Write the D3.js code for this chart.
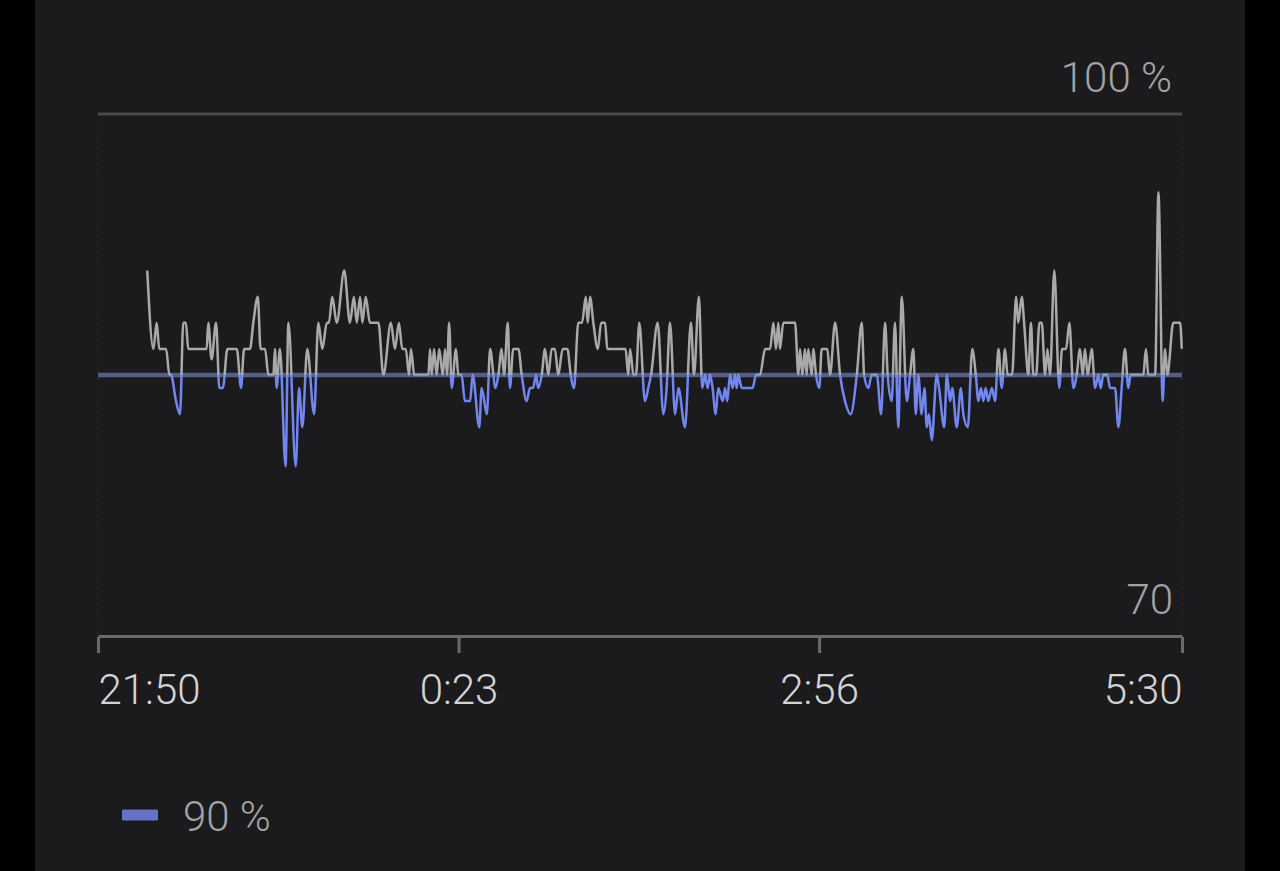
<!DOCTYPE html>
<html>
<head>
<meta charset="utf-8">
<script src="https://cdn.jsdelivr.net/npm/d3@7"></script>
<style>
  html, body { margin: 0; padding: 0; background: #000; }
  svg { display: block; }
</style>
</head>
<body>
<svg id="chart" width="1280" height="871"></svg>
<script>
// ---- data ----
// minutes after 21:50
const minutes = [
  20.9,23.5,24.9,26.0,28.9,30.3,31.0,33.1,34.8,36.2,37.3,38.3,46.1,46.8,48.2,50.1,51.5,53.0,54.9,58.9,
  60.7,62.0,64.5,65.9,67.8,69.0,70.9,72.3,74.4,75.1,75.8,77.2,79.6,80.8,83.9,85.3,86.7,88.8,91.7,93.5,
  95.2,97.1,98.0,99.4,101.3,104.5,106.9,108.6,109.8,111.2,112.2,113.6,115.4,119.0,121.1,124.3,126.0,127.7,129.1,130.6,
  132.0,132.8,134.2,140.2,140.9,141.6,142.6,143.7,144.8,146.3,147.3,148.1,149.0,150.1,151.9,152.9,154.3,155.7,157.9,159.0,
  161.8,162.8,165.0,166.4,167.8,168.5,169.9,171.3,172.3,173.9,174.8,176.2,178.4,179.8,181.9,183.3,184.6,185.9,186.8,188.3,
  189.7,191.1,192.5,193.9,195.3,197.2,199.2,200.6,202.0,203.8,205.4,207.0,207.8,208.8,210.2,212.1,213.5,215.2,216.1,223.9,
  225.0,225.8,227.2,228.3,229.7,232.1,233.5,234.7,237.5,239.9,241.3,242.7,244.9,246.3,249.1,251.6,252.9,255.0,256.4,257.6,
  258.7,259.7,260.8,262.1,263.2,265.1,266.1,267.0,268.2,269.3,270.3,271.0,271.7,273.2,277.8,279.2,280.9,283.1,285.2,286.6,
  287.7,288.7,289.4,290.8,295.8,297.2,297.9,298.9,300.0,300.7,301.4,302.9,303.5,304.7,306.1,307.1,309.5,310.6,312.8,314.9,
  317.0,319.4,322.0,324.1,325.1,326.9,328.3,330.5,332.3,334.0,335.1,336.8,338.2,339.6,341.1,343.2,344.6,346.0,347.0,348.1,
  349.5,350.7,351.7,352.6,353.8,355.9,356.9,359.1,360.2,361.6,362.5,364.4,366.2,367.2,369.1,371.0,372.5,373.6,374.7,375.7,
  376.7,377.8,379.3,380.7,382.1,383.5,384.9,386.0,387.9,389.6,390.5,392.0,393.0,394.8,395.9,396.9,398.1,399.5,400.5,401.9,
  402.9,404.0,405.8,407.9,409.1,410.8,412.2,413.9,415.3,416.7,417.9,418.8,420.0,421.7,423.1,424.5,425.5,426.6,428.3,429.5,
  431.6,433.0,434.4,435.8,437.2,438.2,443.6,444.7,445.7,448.6,450.0,451.8,452.8,453.8,456.3,459.2,459.9
];
// SpO2 (%)
const spo2 = [
  94,91,92,91,91,90,90,89,88.5,92,92,91,91,92,90.6,92,89.5,89.5,91,91,
  89.5,91,91,92,93,91,91,90,90,91,89.5,91,86.5,92,86.5,89.5,88,91,88.5,92,
  91,92,92,93,92,94,92,93,92,93,92,93,92,92,90,92,91,92,91,91,
  90,91,90,90,91,90,91,90,91,90,91,90,92,89.5,91,90,90,89,89,90,
  88,89.5,88.5,91,90,89.5,90,91,90,92,89.5,91,91,90,89,89.5,89.5,90,89.5,90,
  91,90,91,91,90,91,91,90,89.5,92,92,93,92,93,92,91,92,92,91,91,
  90,91,90,90,92,89,89.5,90,92,88.5,89.5,92,88.5,89.5,88,92,90,93,89.5,90,
  89.5,90,89.5,88.5,89.5,89,89.5,89,90,89.5,90,89.5,90,89.5,89.5,90,90,91,91,92,
  91,92,91,92,92,90,91,90,91,90,91,90,91,90,89.5,91,91,90,92,90,
  89,88.5,90,92,90,89.5,90,90,88.5,92,90,89,92,88,93,89,90,91,88.5,90,
  88.5,89.5,88,88.5,87.5,90,89.5,88,90,89,89.5,88,89.5,88.5,88,91,90,89,89.5,89,
  89.5,89,89.5,89,91,89.5,91,90,90,93,92,93,92,90,92,90,90,92,92,90,
  91,90,94,89.5,91,91,92,89.5,90,91,90,91,90,91,89.5,90,89.5,90,90,89.5,
  89.5,88,89.5,91,89.5,90,90,91,90,90,97,89,91,90,92,92,91
];
const threshold = 90;
const yDomain = [80, 100];
const yLabels = ["70", "100 %"];          // bottom, top
const xTickMinutes = [0, 153, 306, 460];
const legendLabel = "90 %";

(function () {
  const start = new Date(2024, 0, 1, 21, 50);
  const toDate = m => new Date(start.getTime() + m * 60000);
  const data = minutes.map((m, i) => ({ t: toDate(m), v: spo2[i] }));

  const svg = d3.select("#chart");
  const pL = 98, pR = 1182, pT = 114, pB = 636;
  const FONT = "Roboto, sans-serif";

  svg.append("rect").attr("x", 0).attr("y", 0).attr("width", 1280).attr("height", 871).attr("fill", "#000");
  svg.append("rect").attr("x", 35).attr("y", 0).attr("width", 1210).attr("height", 871).attr("fill", "#1b1b1d");

  const x = d3.scaleTime().domain([toDate(xTickMinutes[0]), toDate(xTickMinutes[xTickMinutes.length - 1])]).range([pL, pR]);
  const y = d3.scaleLinear().domain(yDomain).range([pB, pT]);

  // faint dotted verticals at edges
  [pL, pR].forEach(px => {
    svg.append("line").attr("x1", px).attr("x2", px).attr("y1", pT).attr("y2", pB)
      .attr("stroke", "#2c2c2f").attr("stroke-width", 1.5).attr("stroke-dasharray", "1.5,4");
  });

  // top gridline
  svg.append("line").attr("x1", pL).attr("x2", pR).attr("y1", y(yDomain[1])).attr("y2", y(yDomain[1]))
    .attr("stroke", "#4b4b4e").attr("stroke-width", 3);

  // y labels
  svg.append("text").attr("x", 1172).attr("y", y(yDomain[1]) - 22).attr("text-anchor", "end")
    .attr("fill", "#a3a3a3").attr("font-family", FONT).attr("font-size", 42).attr("font-weight", 300)
    .text(yLabels[1]);
  svg.append("text").attr("x", 1173).attr("y", y(yDomain[0]) - 22).attr("text-anchor", "end")
    .attr("fill", "#a3a3a3").attr("font-family", FONT).attr("font-size", 42).attr("font-weight", 300)
    .text(yLabels[0]);

  // x axis
  const xAxis = d3.axisBottom(x)
    .tickValues(xTickMinutes.map(toDate))
    .tickFormat(d3.timeFormat("%-H:%M"))
    .tickSizeInner(16).tickSizeOuter(0).tickPadding(22);
  const gx = svg.append("g").attr("transform", `translate(0,${pB})`).call(xAxis);
  gx.select(".domain").attr("stroke", "#6a6a6d").attr("stroke-width", 3);
  gx.selectAll(".tick line").attr("stroke", "#6a6a6d").attr("stroke-width", 3).attr("transform", "translate(0,1)");
  gx.selectAll(".tick text")
    .attr("fill", "#d4d4d4").attr("font-family", FONT).attr("font-size", 42).attr("font-weight", 300)
    .attr("dy", "0.71em")
    .attr("text-anchor", (d, i) => i === 0 ? "start" : (i === xTickMinutes.length - 1 ? "end" : "middle"));

  // threshold line
  svg.append("line").attr("x1", pL).attr("x2", pR).attr("y1", y(threshold)).attr("y2", y(threshold))
    .attr("stroke", "#565d86").attr("stroke-width", 4.5);

  // clip paths
  const defs = svg.append("defs");
  defs.append("clipPath").attr("id", "above").append("rect")
    .attr("x", 0).attr("y", 0).attr("width", 1280).attr("height", y(threshold));
  defs.append("clipPath").attr("id", "below").append("rect")
    .attr("x", 0).attr("y", y(threshold)).attr("width", 1280).attr("height", 871 - y(threshold));

  const line = d3.line().x(d => x(d.t)).y(d => y(d.v)).curve(d3.curveMonotoneX);

  svg.append("path").datum(data).attr("d", line).attr("fill", "none")
    .attr("stroke", "#a9a9a9").attr("stroke-width", 2.5).attr("stroke-linejoin", "round")
    .attr("clip-path", "url(#above)");
  svg.append("path").datum(data).attr("d", line).attr("fill", "none")
    .attr("stroke", "#7186ee").attr("stroke-width", 2.5).attr("stroke-linejoin", "round")
    .attr("clip-path", "url(#below)");

  // legend
  svg.append("rect").attr("x", 122).attr("y", 809.5).attr("width", 36).attr("height", 11).attr("rx", 1.5)
    .attr("fill", "#6672c8");
  svg.append("text").attr("x", 183).attr("y", 831).attr("fill", "#a3a3a3")
    .attr("font-family", FONT).attr("font-size", 42).attr("font-weight", 300)
    .text(legendLabel);
})();
</script>
</body>
</html>
